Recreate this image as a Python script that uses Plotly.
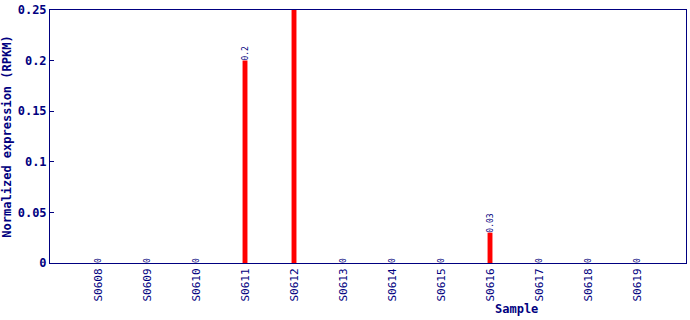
import plotly.graph_objects as go

samples = ["S0608", "S0609", "S0610", "S0611", "S0612", "S0613",
           "S0614", "S0615", "S0616", "S0617", "S0618", "S0619"]
values = [0, 0, 0, 0.2, 0.25, 0, 0, 0, 0.03, 0, 0, 0]
labels = ["0", "0", "0", "0.2", "0.25", "0", "0", "0", "0.03", "0", "0", "0"]
yticks = [0, 0.05, 0.1, 0.15, 0.2, 0.25]
ytick_text = ["0", "0.05", "0.1", "0.15", "0.2", "0.25"]

navy = "#000080"
font = "DejaVu Sans Mono"

xs = list(range(len(samples)))

fig = go.Figure()
fig.add_trace(go.Bar(
    x=xs, y=values, width=0.1,
    marker=dict(color="#ff0000", line=dict(width=0)),
    text=labels, textposition="outside", textangle=-90,
    textfont=dict(family=font, size=8, color=navy),
    constraintext="none", cliponaxis=True,
))

fig.update_layout(
    width=690, height=320,
    margin=dict(l=50, r=4, t=10, b=57),
    paper_bgcolor="white", plot_bgcolor="white",
    showlegend=False,
    font=dict(family=font, color=navy),
    xaxis=dict(
        range=[-0.98, 12], tickmode="array", tickvals=xs, ticktext=samples,
        tickangle=-90, tickfont=dict(family=font, size=11, color=navy),
        showline=True, linecolor=navy, linewidth=1, mirror=True,
        showgrid=False, zeroline=False, ticks="",
    ),
    yaxis=dict(
        range=[0, 0.25], tickmode="array", tickvals=yticks, ticktext=ytick_text,
        tickfont=dict(family=font, size=12, color=navy, weight="bold"),
        showline=True, linecolor=navy, linewidth=1, mirror=True,
        showgrid=False, zeroline=False, ticks="inside", ticklen=4, tickcolor=navy,
        title=dict(text="Normalized expression (RPKM)",
                   font=dict(family=font, size=12, color=navy, weight="bold"),
                   standoff=5),
    ),
    annotations=[dict(
        text="Sample", x=(516 - 50) / 636, y=-(309 - 263) / 253,
        xref="paper", yref="paper", showarrow=False,
        xanchor="center", yanchor="middle",
        font=dict(family=font, size=12, color=navy, weight="bold"),
    )],
)

fig.write_html("out.html")
